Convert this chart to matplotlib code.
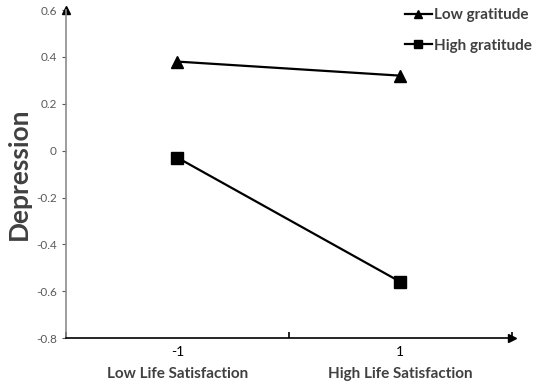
import matplotlib
matplotlib.use("Agg")
import matplotlib.pyplot as plt

categories = ["-1", "1"]
group_labels = ["Low Life Satisfaction", "High Life Satisfaction"]
low_gratitude = [0.38, 0.32]
high_gratitude = [-0.03, -0.56]
yticks = [-0.8, -0.6, -0.4, -0.2, 0, 0.2, 0.4, 0.6]

plt.rcParams['font.family'] = ['Lato', 'DejaVu Sans']

fig = plt.figure(figsize=(5.36, 3.86), dpi=100)
ax = fig.add_axes([0.123, 0.124, 0.832, 0.85])

x = list(range(len(categories)))
ax.plot(x, low_gratitude, color='black', lw=1.6, marker='^', ms=9,
        label='Low gratitude', clip_on=False)
ax.plot(x, high_gratitude, color='black', lw=1.6, marker='s', ms=9,
        label='High gratitude', clip_on=False)

ax.set_xlim(-0.5, 1.5)
ax.set_ylim(-0.8, 0.6)
ax.set_yticks(yticks)
ax.set_yticklabels(['-0.8', '-0.6', '-0.4', '-0.2', '0', '0.2', '0.4', '0.6'])
ax.set_xticks([-0.5, 0.5, 1.5])
ax.set_xticklabels([])
ax.set_xticks(x, minor=True)
ax.set_xticklabels(categories, minor=True)
ax.tick_params(axis='x', which='minor', length=0, pad=6)
ax.tick_params(axis='x', which='major', length=4, direction='in', width=1.2)
ax.tick_params(axis='both', labelsize=8.5, labelcolor='#595959')
ax.tick_params(axis='y', length=3, color='#595959')

for side in ['top', 'right']:
    ax.spines[side].set_visible(False)
ax.spines['left'].set_color('#8c8c8c')
ax.spines['left'].set_linewidth(1.2)
ax.spines['bottom'].set_color('black')
ax.spines['bottom'].set_linewidth(1.2)

# arrow heads at axis ends
ax.plot(0, 1, marker='^', color='black', ms=6, transform=ax.transAxes, clip_on=False)
ax.plot(1, 0, marker='>', color='black', ms=6, transform=ax.transAxes, clip_on=False)

for xi, lab in zip(x, group_labels):
    ax.text(xi, -0.955, lab, ha='center', va='center', fontsize=11,
            fontweight='bold', color='#404040')

ax.set_ylabel('Depression', fontsize=19, fontweight='bold', color='#404040', labelpad=4)

leg = ax.legend(loc='upper right', bbox_to_anchor=(1.075, 1.048), frameon=False,
                handlelength=1.8, handletextpad=0.1, labelspacing=1.1,
                prop={'size': 11, 'weight': 'bold'})
for t in leg.get_texts():
    t.set_color('#404040')
for h in leg.legend_handles:
    h.set_markersize(6)

fig.savefig('out.png', dpi=100)
